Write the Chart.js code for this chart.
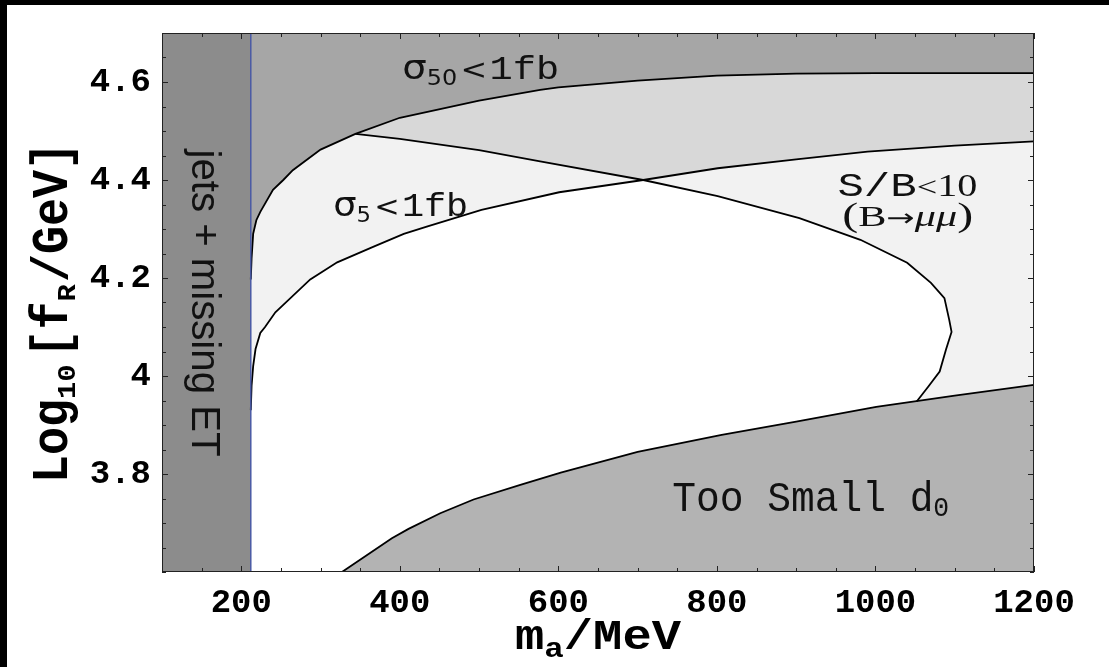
<!DOCTYPE html>
<html>
<head>
<meta charset="utf-8">
<title>Bounds on f_R versus m_a</title>
<script src="https://cdn.jsdelivr.net/npm/chart.js@4.4.1/dist/chart.umd.min.js"></script>
<style>
    html, body { margin: 0; padding: 0; background: #000; }
    #wrap { position: absolute; left: 7px; top: 5px; width: 1102px; height: 662px; background: #fff; }
</style>
</head>
<body>
<div id="wrap"><canvas id="bounds"></canvas></div>
<script>
// Rangos de los ejes
const massMin = 100, massMax = 1200;
const logMin = 3.6, logMax = 4.7;
const jetsCut = 212; // corte "jets + missing ET"
const crossMass = 707; // cruce de S/B con sigma5

const xTickLabels = [200, 400, 600, 800, 1000, 1200];
const yTickLabels = [3.8, 4, 4.2, 4.4, 4.6];

// sigma50 < 1 fb (borde superior)
const sigma50Mass = [212, 213, 215, 219, 224, 240, 253, 265, 300, 344, 400, 500, 577, 600, 700, 800, 900, 1000, 1200];
const sigma50Log  = [4.197, 4.24, 4.29, 4.318, 4.335, 4.38, 4.40, 4.42, 4.462, 4.494, 4.527, 4.562, 4.584, 4.589, 4.603, 4.613, 4.617, 4.618, 4.618];

// sigma5 < 1 fb
const sigma5Mass = [212, 213, 215, 218, 224, 230, 243, 253, 287, 321, 367, 405, 434, 503, 601, 707, 801, 900, 990, 1100, 1200];
const sigma5Log  = [3.93, 3.98, 4.02, 4.055, 4.088, 4.10, 4.13, 4.145, 4.197, 4.232, 4.264, 4.29, 4.305, 4.339, 4.375, 4.40, 4.424, 4.442, 4.458, 4.47, 4.479];

// S/B < 10 (B -> mu mu)
const sbMass = [344, 400, 500, 577, 707, 801, 904, 981, 1040, 1070, 1087, 1093, 1096, 1089, 1081, 1067, 1052];
const sbLog  = [4.494, 4.484, 4.461, 4.438, 4.40, 4.367, 4.322, 4.278, 4.231, 4.19, 4.159, 4.115, 4.09, 4.054, 4.009, 3.979, 3.948];

// Too small d0
const d0Mass = [327, 390, 411, 451, 493, 552, 603, 700, 806, 900, 1001, 1100, 1200];
const d0Log  = [3.60, 3.669, 3.688, 3.72, 3.748, 3.778, 3.803, 3.845, 3.88, 3.907, 3.937, 3.96, 3.982];

function toPoints(xs, ys) {
    return xs.map((x, i) => ({ x: x, y: ys[i] }));
}

const sigma50Pts = toPoints(sigma50Mass, sigma50Log);
const sigma5Pts = toPoints(sigma5Mass, sigma5Log);
const sbPts = toPoints(sbMass, sbLog);
const d0Pts = toPoints(d0Mass, d0Log);

// Poligonos de las regiones
const sbShape = sbPts.concat([{ x: massMax, y: logMin }, { x: massMax, y: logMax }, { x: sbMass[0], y: logMax }]);
const overlapShape = sbPts.slice(0, sbMass.indexOf(crossMass) + 1)
    .concat(sigma5Pts.filter(p => p.x > crossMass))
    .concat([{ x: massMax, y: logMax }, { x: sbMass[0], y: logMax }]);
const jetsShape = [{ x: massMin, y: logMin }, { x: jetsCut, y: logMin }, { x: jetsCut, y: logMax }, { x: massMin, y: logMax }];
const jetsLine = [{ x: jetsCut, y: logMin }, { x: jetsCut, y: logMax }];

function area(data, fill, color, order) {
    return { data: data, fill: fill, backgroundColor: color, borderColor: 'rgba(0,0,0,0)', borderWidth: 0,
             showLine: true, pointRadius: 0, order: order };
}

function curve(data, color, width, order) {
    return { data: data, fill: false, borderColor: color, borderWidth: width,
             showLine: true, pointRadius: 0, order: order };
}

// Texto con subindices
function drawRich(ctx, parts, px, py, opt) {
    ctx.save();
    let w = 0;
    parts.forEach(p => {
        ctx.font = p.f;
        p.w = ctx.measureText(p.t).width;
        w += p.w + (p.gap || 0);
    });
    ctx.translate(px, py);
    if (opt.rotate) ctx.rotate(opt.rotate);
    const sx = opt.width ? opt.width / w : 1;
    ctx.scale(sx, 1);
    let cx = opt.align === 'center' ? -w / 2 : 0;
    ctx.fillStyle = opt.color || '#000';
    ctx.textBaseline = 'alphabetic';
    ctx.textAlign = 'left';
    parts.forEach(p => {
        cx += (p.gap || 0);
        ctx.save();
        ctx.font = p.f;
        ctx.translate(cx, p.dy || 0);
        ctx.scale(1, p.sy || 1);
        ctx.fillText(p.t, 0, 0);
        ctx.restore();
        cx += p.w;
    });
    ctx.restore();
}

const overlay = {
    id: 'overlay',
    afterDatasetsDraw(chart) {
        const { ctx, chartArea: a, scales: { x, y } } = chart;
        ctx.save();

        // Marco
        ctx.strokeStyle = '#222';
        ctx.lineWidth = 1;
        ctx.strokeRect(a.left + 0.5, a.top + 0.5, a.width - 1, a.height - 1);

        // Marcas hacia adentro
        ctx.beginPath();
        x.ticks.forEach(t => {
            const px = Math.round(x.getPixelForValue(t.value)) + 0.5;
            const len = t.label !== '' ? 6 : 4;
            ctx.moveTo(px, a.bottom); ctx.lineTo(px, a.bottom - len);
            ctx.moveTo(px, a.top); ctx.lineTo(px, a.top + len);
        });
        y.ticks.forEach(t => {
            const py = Math.round(y.getPixelForValue(t.value)) + 0.5;
            const len = t.label !== '' ? 6 : 4;
            ctx.moveTo(a.left, py); ctx.lineTo(a.left + len, py);
            ctx.moveTo(a.right, py); ctx.lineTo(a.right - len, py);
        });
        ctx.stroke();
        ctx.restore();

        const MONO = 'Liberation Mono', SANS = 'DejaVu Sans', SERIF = 'Liberation Serif';
        const X = v => x.getPixelForValue(v), Y = v => y.getPixelForValue(v);

        drawRich(ctx, [
            { t: '\u03c3', f: '34px ' + SANS },
            { t: '50', f: '21px ' + SANS, dy: 6 },
            { t: '<', f: '28px ' + SANS, gap: 3 },
            { t: '1fb', f: '34px ' + MONO, gap: 2 }
        ], X(403), Y(4.607), { width: 157, color: '#111' });

        drawRich(ctx, [
            { t: '\u03c3', f: '34px ' + SANS },
            { t: '5', f: '21px ' + SANS, dy: 6 },
            { t: '<', f: '28px ' + SANS, gap: 3 },
            { t: '1fb', f: '34px ' + MONO, gap: 2 }
        ], X(316), Y(4.327), { width: 135, color: '#111' });

        drawRich(ctx, [
            { t: 'S/B', f: '34px ' + MONO },
            { t: '<', f: '28px ' + SERIF },
            { t: '10', f: '31px ' + SERIF }
        ], X(952), Y(4.367), { width: 140, color: '#111' });

        drawRich(ctx, [
            { t: '(', f: '34px ' + SERIF },
            { t: 'B', f: '30px ' + SERIF },
            { t: '\u2192', f: '24px ' + SANS },
            { t: '\u03bc\u03bc', f: 'italic 30px ' + SERIF },
            { t: ')', f: '34px ' + SERIF }
        ], X(958), Y(4.307), { width: 131, color: '#111' });

        drawRich(ctx, [
            { t: 'Too Small d', f: '42px ' + MONO },
            { t: '0', f: '28px ' + MONO, dy: 5 }
        ], X(743.6), Y(3.724), { width: 277, color: '#111' });

        drawRich(ctx, [
            { t: 'jets + missing ET', f: '40px Liberation Sans' }
        ], X(137.5), Y(4.149), { width: 307, align: 'center', rotate: Math.PI / 2, color: '#111' });

        // Titulos de los ejes
        drawRich(ctx, [
            { t: 'm', f: 'bold 42px ' + MONO },
            { t: 'a', f: 'bold 28px ' + MONO, dy: 8 },
            { t: '/', f: 'bold 42px ' + MONO },
            { t: 'MeV', f: 'bold 42px ' + MONO }
        ], (a.left + a.right) / 2, a.bottom + 77, { width: 166, align: 'center' });

        drawRich(ctx, [
            { t: 'Log', f: 'bold 42px ' + MONO, sy: 1.25 },
            { t: '10', f: 'bold 26px ' + MONO, dy: 8 },
            { t: '[', f: 'bold 42px ' + MONO, sy: 1.25, gap: 6 },
            { t: 'f', f: 'bold 42px ' + MONO, sy: 1.25 },
            { t: 'R', f: 'bold 26px ' + MONO, dy: 8 },
            { t: '/', f: 'bold 42px ' + MONO, sy: 1.25, gap: 2 },
            { t: 'GeV', f: 'bold 42px ' + MONO, sy: 1.25 },
            { t: ']', f: 'bold 42px ' + MONO, sy: 1.25 }
        ], a.left - 95, (a.top + a.bottom) / 2 + 10, { width: 341, align: 'center', rotate: -Math.PI / 2 });
    }
};

const tickFont = { family: 'Liberation Mono', size: 34, weight: 'bold' };

new Chart(document.getElementById('bounds').getContext('2d'), {
    type: 'scatter',
    data: {
        datasets: [
            area(sigma5Pts, 'end', '#f2f2f2', 12),
            area(sbShape, 'shape', '#f2f2f2', 11),
            area(overlapShape, 'shape', '#d8d8d8', 10),
            area(sigma50Pts, 'end', '#a6a6a6', 9),
            area(d0Pts, 'start', '#b3b3b3', 8),
            area(jetsShape, 'shape', '#8c8c8c', 7),
            curve(sigma50Pts, '#000', 1.8, 5),
            curve(sigma5Pts, '#000', 1.8, 4),
            curve(sbPts, '#000', 1.8, 3),
            curve(d0Pts, '#000', 1.8, 2),
            curve(jetsLine, '#4a5aa5', 1.5, 1)
        ]
    },
    options: {
        responsive: true,
        maintainAspectRatio: false,
        animation: false,
        events: [],
        layout: { padding: { top: 28, right: 75, left: 0, bottom: 0 } },
        elements: { line: { tension: 0 } },
        plugins: {
            legend: { display: false },
            tooltip: { enabled: false }
        },
        scales: {
            x: {
                type: 'linear',
                min: massMin,
                max: massMax,
                grid: { display: false },
                border: { display: false },
                ticks: {
                    stepSize: 50,
                    autoSkip: false,
                    maxRotation: 0,
                    padding: 3,
                    color: '#000',
                    font: tickFont,
                    callback: v => xTickLabels.includes(Math.round(v)) ? String(Math.round(v)) : ''
                },
                afterFit: s => { s.height = 95; }
            },
            y: {
                type: 'linear',
                min: logMin,
                max: logMax,
                grid: { display: false },
                border: { display: false },
                ticks: {
                    stepSize: 0.05,
                    autoSkip: false,
                    padding: 3,
                    color: '#000',
                    font: tickFont,
                    callback: v => {
                        const r = Math.round(v * 100) / 100;
                        return yTickLabels.includes(r) ? String(r) : '';
                    }
                },
                afterFit: s => { s.width = 155; }
            }
        }
    },
    plugins: [overlay]
});
</script>
</body>
</html>
